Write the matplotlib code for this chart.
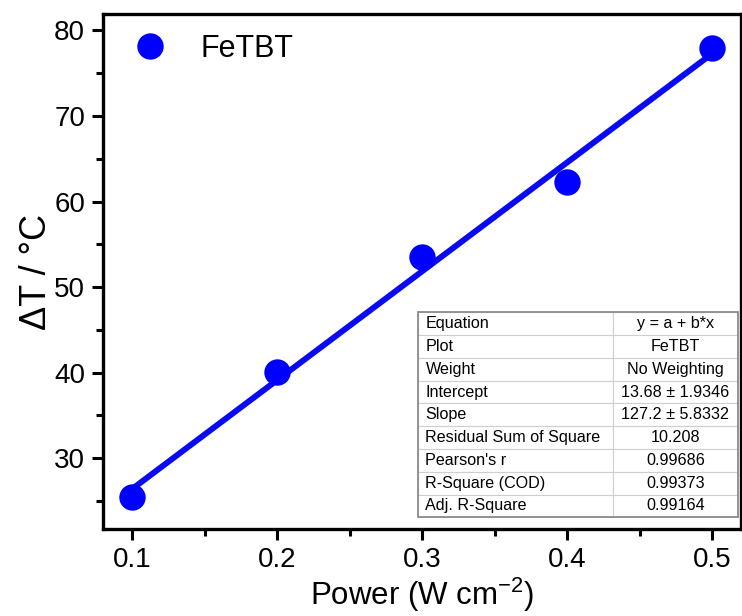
import numpy as np
import matplotlib.pyplot as plt
from matplotlib.patches import Rectangle
from matplotlib.ticker import MultipleLocator

plt.rcParams['font.family'] = ['Liberation Sans', 'DejaVu Sans']
plt.rcParams['axes.unicode_minus'] = False

power = [0.1, 0.2, 0.3, 0.4, 0.5]
delta_t = [25.5, 40.1, 53.5, 62.3, 78.0]

intercept = 13.68
slope = 127.2

fit_rows = [
    ['Equation', 'y = a + b*x'],
    ['Plot', 'FeTBT'],
    ['Weight', 'No Weighting'],
    ['Intercept', '13.68 ± 1.9346'],
    ['Slope', '127.2 ± 5.8332'],
    ['Residual Sum of Square', '10.208'],
    ["Pearson's r", '0.99686'],
    ['R-Square (COD)', '0.99373'],
    ['Adj. R-Square', '0.99164'],
]

fig = plt.figure(figsize=(7.42, 6.16), dpi=100)
ax = fig.add_axes([0.139, 0.141, 0.8597, 0.836])

# linear fit from the table parameters, over the measured range
xfit = np.array([power[0], power[-1]])
ax.plot(xfit, intercept + slope * xfit, color='#0a0af2', lw=4.3, zorder=2)
ax.plot(power, delta_t, 'o', color='#0000ff', ms=19, mec='none', zorder=3,
        label='FeTBT')

ax.set_xlim(0.08, 0.52)
ax.set_ylim(21.7, 81.9)
ax.xaxis.set_major_locator(MultipleLocator(0.1))
ax.xaxis.set_minor_locator(MultipleLocator(0.05))
ax.yaxis.set_major_locator(MultipleLocator(10))
ax.yaxis.set_minor_locator(MultipleLocator(5))
ax.tick_params(which='both', direction='out', width=2.2, labelsize=20,
               top=False, right=False)
ax.tick_params(which='major', length=8, pad=5)
ax.tick_params(which='minor', length=5)
for s in ax.spines.values():
    s.set_linewidth(2.4)

ax.set_xlabel('Power (W cm$^{\\mathregular{-2}}$)', fontsize=22.5, labelpad=2)
ax.set_ylabel('ΔT / °C', fontsize=26, labelpad=0)

ax.legend(loc='center left', bbox_to_anchor=(0.026, 0.932), frameon=False,
          fontsize=22, handlelength=2.0, handletextpad=0.64,
          borderaxespad=0, borderpad=0, markerscale=1.0)

tbl_box = [0.493, 0.023, 0.502, 0.398]
tbl = ax.table(cellText=fit_rows, colWidths=[0.61, 0.39], bbox=tbl_box,
               zorder=5)
tbl.auto_set_font_size(False)
for (r, c), cell in tbl.get_celld().items():
    cell.set_fontsize(11.6)
    cell.set_edgecolor('#cfcfcf')
    cell.set_linewidth(0.8)
    cell.set_facecolor('white')
    cell.get_text().set_ha('left' if c == 0 else 'center')
    if c == 0:
        cell.PAD = 0.04
ax.add_patch(Rectangle(tbl_box[:2], tbl_box[2], tbl_box[3],
                       transform=ax.transAxes, fill=False,
                       edgecolor='#8c8c8c', lw=1.3, zorder=6))

fig.savefig('out.png', dpi=100)
